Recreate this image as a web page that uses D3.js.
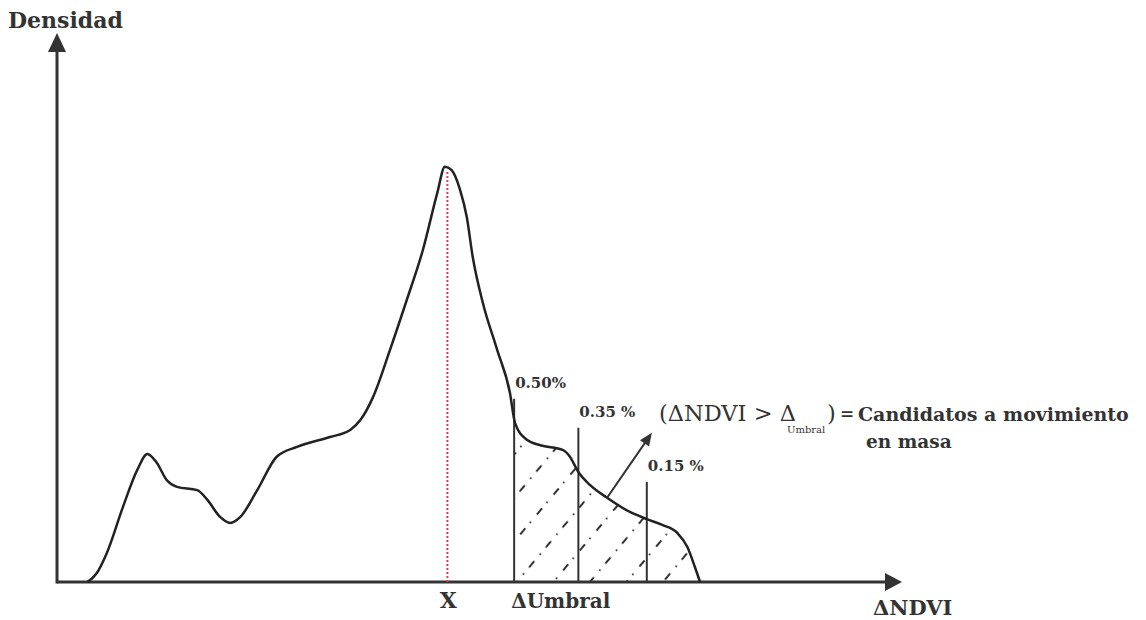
<!DOCTYPE html>
<html>
<head>
<meta charset="utf-8">
<script src="https://cdn.jsdelivr.net/npm/d3@7"></script>
<style>
  html, body { margin: 0; padding: 0; background: #fff; }
  svg { display: block; }
  text { font-family: "DejaVu Serif", "Liberation Serif", serif; fill: #333; }
</style>
</head>
<body>
<div id="chart"></div>
<script>
/*************************************************
    Data:
 *************************************************/
// density curve, x = ΔNDVI (arbitrary units), y = density
var curveX = [3.6, 4.7, 5.9, 7.8, 9.5, 10.7, 11.8, 13.0, 14.2, 16.6, 17.8, 19.3, 20.5, 21.7,
    23.7, 26.0, 28.4, 32.3, 34.7, 35.9, 37.4, 39.4, 41.4, 43.3, 45.0, 45.9, 46.7, 47.7,
    48.5, 49.2, 50.4, 52.1, 53.6, 54.2, 55.6, 57.2, 59.9, 60.7, 61.7, 63.1, 65.1, 67.8,
    69.8, 71.7, 73.4, 74.6, 75.5, 76.1];
var curveY = [0, 1.6, 5.3, 13.7, 20.5, 23.4, 21.8, 18.6, 17.4, 16.8, 15.0, 11.9, 10.8, 11.9,
    16.8, 22.9, 24.7, 26.5, 27.8, 29.6, 33.8, 42.4, 51.6, 60.7, 71.1, 75.9, 75.3, 71.7,
    66.7, 59.4, 51.0, 42.4, 34.6, 29.1, 26.0, 25.0, 24.1, 22.9, 20.1, 17.7, 15.4, 12.8,
    11.5, 10.4, 9.0, 6.4, 2.7, 0];

var meanX = 46.2;
var thresholdX = [54.1, 61.7, 69.8];
var thresholdTop = [33.5, 28.2, 18.3];
var thresholdLabels = ["0.50%", "0.35 %", "0.15 %"];

/*************************************************
    Setup:
 *************************************************/
var width = 1146, height = 620;

var svg = d3.select("#chart").append("svg")
    .attr("width", width)
    .attr("height", height);

var x = d3.scaleLinear().domain([0, 100]).range([57, 902]);
var y = d3.scaleLinear().domain([0, 100]).range([582, 35]);

var points = curveX.map(function(d, i) { return [d, curveY[i]]; });

var line = d3.line()
    .x(function(d) { return x(d[0]); })
    .y(function(d) { return y(d[1]); })
    .curve(d3.curveMonotoneX);

var area = d3.area()
    .x(function(d) { return x(d[0]); })
    .y0(y(0))
    .y1(function(d) { return y(d[1]); })
    .curve(d3.curveMonotoneX);

var defs = svg.append("defs");

// dash-dot hatching
var pat = defs.append("pattern")
    .attr("id", "hatch")
    .attr("patternUnits", "userSpaceOnUse")
    .attr("width", 26)
    .attr("height", 56)
    .attr("patternTransform", "rotate(-50)");
pat.append("line")
    .attr("x1", 0).attr("y1", 14).attr("x2", 26).attr("y2", 14)
    .attr("stroke", "#333").attr("stroke-width", 1.8)
    .attr("stroke-dasharray", "0,3,8,7,1.5,6.5");
pat.append("line")
    .attr("x1", 0).attr("y1", 42).attr("x2", 26).attr("y2", 42)
    .attr("stroke", "#333").attr("stroke-width", 1.8)
    .attr("stroke-dasharray", "1.5,8,8,8.5");

defs.append("clipPath").attr("id", "tail")
    .append("rect")
    .attr("x", x(thresholdX[0]))
    .attr("y", 0)
    .attr("width", width)
    .attr("height", y(0));

svg.append("path")
    .datum(points)
    .attr("d", area)
    .attr("fill", "url(#hatch)")
    .attr("clip-path", "url(#tail)");

/*************************************************
    Axes:
 *************************************************/
var axisColor = "#333";

svg.append("line")
    .attr("x1", x(0)).attr("y1", y(0))
    .attr("x2", x(100) - 12).attr("y2", y(0))
    .attr("stroke", axisColor).attr("stroke-width", 3);
svg.append("path")
    .attr("d", "M" + x(100) + "," + y(0) + "L" + (x(100) - 17) + "," + (y(0) - 9) +
        "L" + (x(100) - 17) + "," + (y(0) + 9) + "Z")
    .attr("fill", axisColor);

svg.append("line")
    .attr("x1", x(0)).attr("y1", y(0) + 1.5)
    .attr("x2", x(0)).attr("y2", y(100) + 12)
    .attr("stroke", axisColor).attr("stroke-width", 3);
svg.append("path")
    .attr("d", "M" + x(0) + "," + (y(100) - 2) + "L" + (x(0) - 9) + "," + (y(100) + 17) +
        "L" + (x(0) + 9) + "," + (y(100) + 17) + "Z")
    .attr("fill", axisColor);

/*************************************************
    Marks:
 *************************************************/
// mean line
svg.append("line")
    .attr("x1", x(meanX)).attr("y1", y(0))
    .attr("x2", x(meanX)).attr("y2", y(75.2))
    .attr("stroke", "#e8385a").attr("stroke-width", 2)
    .attr("stroke-dasharray", "2,2");

// threshold lines
svg.selectAll(".thr")
    .data(thresholdX)
    .enter().append("line")
    .attr("class", "thr")
    .attr("x1", function(d) { return x(d); })
    .attr("x2", function(d) { return x(d); })
    .attr("y1", y(0))
    .attr("y2", function(d, i) { return y(thresholdTop[i]); })
    .attr("stroke", "#333").attr("stroke-width", 2);

svg.selectAll(".thr-label")
    .data(thresholdLabels)
    .enter().append("text")
    .attr("class", "thr-label")
    .attr("x", function(d, i) { return x(thresholdX[i]) + 1; })
    .attr("y", function(d, i) { return y(thresholdTop[i]) - 11; })
    .attr("font-size", 15)
    .attr("font-weight", "bold")
    .text(function(d) { return d; });

// density curve
svg.append("path")
    .datum(points)
    .attr("d", line)
    .attr("fill", "none")
    .attr("stroke", "#222")
    .attr("stroke-width", 2.5);

// arrow towards the formula
var arrowFrom = [65.1, 15.4], arrowTo = [70.4, 27.3];
svg.append("line")
    .attr("x1", x(arrowFrom[0])).attr("y1", y(arrowFrom[1]))
    .attr("x2", x(arrowTo[0]) - 4).attr("y2", y(arrowTo[1]) + 6)
    .attr("stroke", "#333").attr("stroke-width", 2);
(function() {
    var tx = x(arrowTo[0]), ty = y(arrowTo[1]);
    var ang = Math.atan2(ty - y(arrowFrom[1]), tx - x(arrowFrom[0]));
    var len = 13, half = 5.5;
    var bx = tx - len * Math.cos(ang), by = ty - len * Math.sin(ang);
    var px = -Math.sin(ang) * half, py = Math.cos(ang) * half;
    svg.append("path")
        .attr("d", "M" + tx + "," + ty + "L" + (bx + px) + "," + (by + py) +
            "L" + (bx - px) + "," + (by - py) + "Z")
        .attr("fill", "#333");
})();

/*************************************************
    Texts:
 *************************************************/
svg.append("text").attr("x", 8).attr("y", 28)
    .attr("font-size", 22).attr("font-weight", "bold")
    .text("Densidad");

svg.append("text").attr("x", x(meanX) + 1).attr("y", 608)
    .attr("text-anchor", "middle")
    .attr("font-size", 22).attr("font-weight", "bold")
    .text("X");

svg.append("text").attr("x", x(thresholdX[0]) - 3).attr("y", 608)
    .attr("font-size", 20).attr("font-weight", "bold")
    .text("\u0394Umbral");

svg.append("text").attr("x", 873).attr("y", 615)
    .attr("font-size", 21).attr("font-weight", "bold")
    .text("\u0394NDVI");

svg.append("text").attr("x", 659).attr("y", 421)
    .attr("font-size", 22.5)
    .text("(\u0394NDVI > \u0394");
svg.append("text").attr("x", 787).attr("y", 433)
    .attr("font-size", 10)
    .text("Umbral");
svg.append("text").attr("x", 827).attr("y", 421)
    .attr("font-size", 22.5)
    .text(")");
svg.append("text").attr("x", 840).attr("y", 419)
    .attr("font-size", 17).attr("font-weight", "bold")
    .text("=");
svg.append("text").attr("x", 858).attr("y", 421)
    .attr("font-size", 19).attr("font-weight", "bold")
    .text("Candidatos a movimiento");
svg.append("text").attr("x", 866).attr("y", 448)
    .attr("font-size", 18.5).attr("font-weight", "bold")
    .text("en masa");
</script>
</body>
</html>
